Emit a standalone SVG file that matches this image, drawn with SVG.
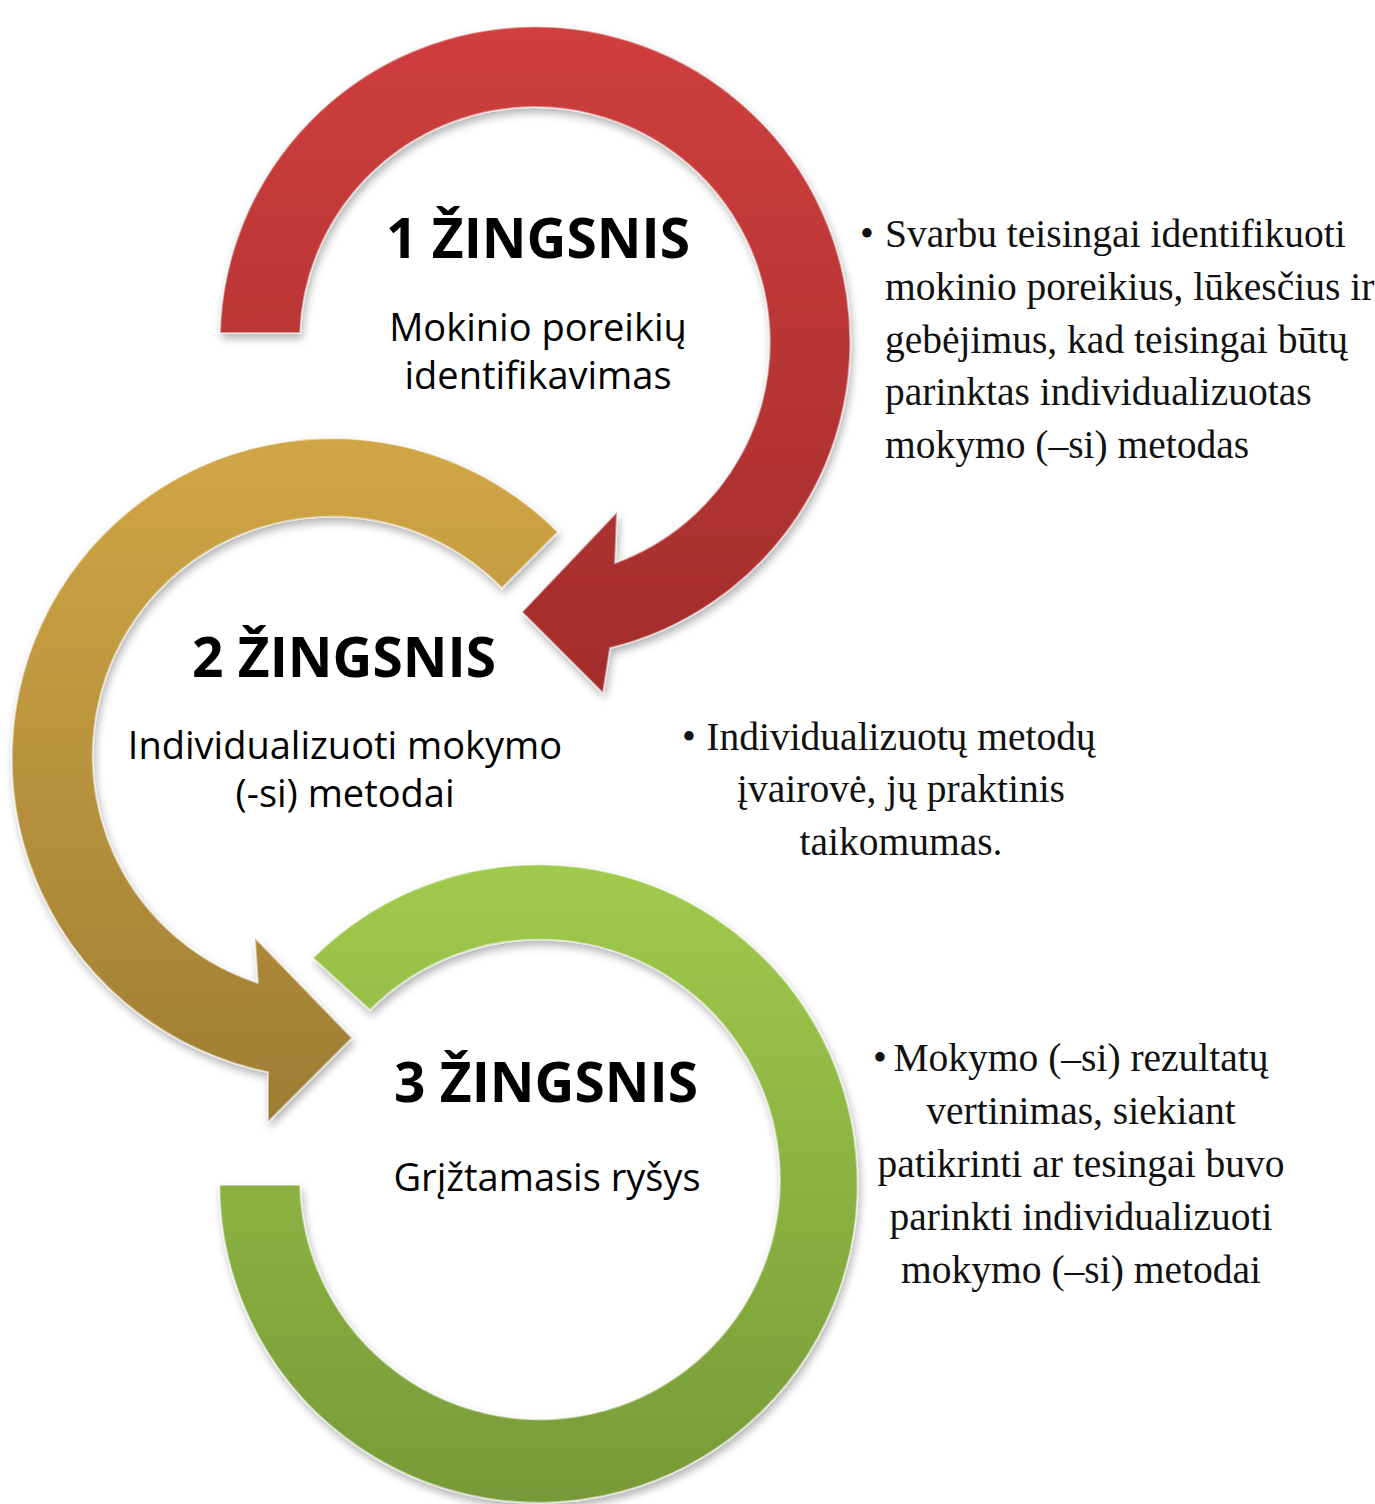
<svg xmlns="http://www.w3.org/2000/svg" width="1375" height="1504" viewBox="0 0 1375 1504">
<style>
.h{font-family:"Open Sans","Liberation Sans",sans-serif;font-weight:700;font-size:55px;fill:#000;text-anchor:middle}
.s{font-family:"Open Sans","Liberation Sans",sans-serif;font-size:38px;fill:#000;text-anchor:middle}
.d{font-family:"Liberation Serif","DejaVu Serif",serif;font-size:39.5px;fill:#111}
.dc{font-family:"Liberation Serif","DejaVu Serif",serif;font-size:39.5px;fill:#111;text-anchor:middle}
.arrow{stroke:#ffffff;stroke-opacity:0.45;stroke-width:2;filter:url(#sh)}
</style>
<defs>
<linearGradient id="gRed" x1="0" y1="0" x2="0" y2="1">
<stop offset="0" stop-color="#CF3F3D"/><stop offset="1" stop-color="#A22C2C"/>
</linearGradient>
<linearGradient id="gGold" x1="0" y1="0" x2="0" y2="1">
<stop offset="0" stop-color="#D1A645"/><stop offset="1" stop-color="#9E7D33"/>
</linearGradient>
<linearGradient id="gGreen" x1="0" y1="0" x2="0" y2="1">
<stop offset="0" stop-color="#A0CA4C"/><stop offset="1" stop-color="#779A37"/>
</linearGradient>
<filter id="sh" x="-10%" y="-10%" width="120%" height="120%">
<feDropShadow dx="2" dy="5" stdDeviation="4" flood-color="#000" flood-opacity="0.3"/>
</filter>
</defs>
<rect width="1375" height="1504" fill="#fff"/>
<g id="connectors">
<path id="arrow3" class="arrow" fill="url(#gGreen)" d="M 313 958 A 319 319 0 1 1 219.5 1185 L 300 1185 A 240 240 0 1 0 370 1010 Z"/>
<path id="arrow2" class="arrow" fill="url(#gGold)" d="M 558 532 A 320 320 0 1 0 268 1072 L 268 1122 L 352 1038 L 255 938 L 258 983 A 239 239 0 1 1 502 588 Z"/>
<path id="arrow1" class="arrow" fill="url(#gRed)" d="M 220 333 A 315.2 315.2 0 1 1 610 648 L 603 693 L 522 612 L 617 512 L 615 563 A 235 235 0 1 0 300 333 Z"/>
</g>
<g id="step1">
<text class="h" x="538" y="258">1 ŽINGSNIS</text>
<text class="s" x="538" y="341">Mokinio poreikių</text>
<text class="s" x="538" y="389">identifikavimas</text>
</g>
<g id="step2">
<text class="h" x="344" y="677">2 ŽINGSNIS</text>
<text class="s" x="345" y="759">Individualizuoti mokymo</text>
<text class="s" x="345" y="807">(-si) metodai</text>
</g>
<g id="step3">
<text class="h" x="546" y="1102">3 ŽINGSNIS</text>
<text class="s" x="547" y="1191">Grįžtamasis ryšys</text>
</g>
<g id="desc1">
<text class="d" x="860" y="247">•</text>
<text class="d" x="885" y="247">Svarbu teisingai identifikuoti</text>
<text class="d" x="885" y="300">mokinio poreikius, lūkesčius ir</text>
<text class="d" x="885" y="353">gebėjimus, kad teisingai būtų</text>
<text class="d" x="885" y="405">parinktas individualizuotas</text>
<text class="d" x="885" y="458">mokymo (–si) metodas</text>
</g>
<g id="desc2">
<text class="d" x="682" y="750">•</text>
<text class="dc" x="901" y="750">Individualizuotų metodų</text>
<text class="dc" x="901" y="802">įvairovė, jų praktinis</text>
<text class="dc" x="901" y="855">taikomumas.</text>
</g>
<g id="desc3">
<text class="d" x="873" y="1071">•</text>
<text class="dc" x="1081" y="1071">Mokymo (–si) rezultatų</text>
<text class="dc" x="1081" y="1124">vertinimas, siekiant</text>
<text class="dc" x="1081" y="1177">patikrinti ar tesingai buvo</text>
<text class="dc" x="1081" y="1230">parinkti individualizuoti</text>
<text class="dc" x="1081" y="1283">mokymo (–si) metodai</text>
</g>
</svg>
